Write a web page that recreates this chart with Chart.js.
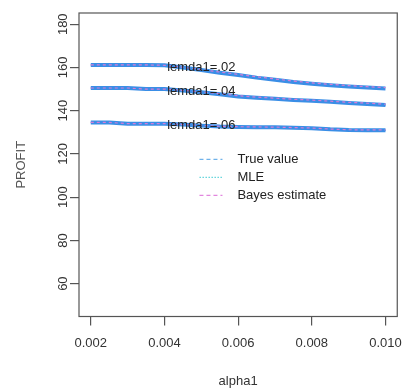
<!DOCTYPE html>
<html>
<head>
<meta charset="utf-8">
<script src="https://cdn.jsdelivr.net/npm/chart.js@4"></script>
<style>
  body { margin: 0; background: #fff; }
  #wrap { width: 412px; height: 389px; }
</style>
</head>
<body>
<div id="wrap"><canvas id="chart" width="412" height="389"></canvas></div>
<script>
// alpha1 values (x)
const alpha1 = [0.002, 0.0025, 0.003, 0.0035, 0.004, 0.0045, 0.005, 0.0055, 0.006,
                0.0065, 0.007, 0.0075, 0.008, 0.0085, 0.009, 0.0095, 0.010];

// PROFIT, lemda1 = .02
const true02  = [161.2, 161.2, 161.2, 161.2, 161.0, 160.0, 158.8, 157.6, 156.5, 155.3, 154.3, 153.3, 152.5, 151.8, 151.2, 150.7, 150.3];
const mle02   = [161.2, 161.2, 161.2, 161.2, 161.0, 160.0, 158.8, 157.6, 156.5, 155.3, 154.3, 153.3, 152.5, 151.8, 151.2, 150.7, 150.3];
const bayes02 = [161.2, 161.2, 161.2, 161.2, 161.0, 160.1, 159.0, 157.9, 156.8, 155.7, 154.7, 153.7, 152.9, 152.2, 151.6, 151.1, 150.7];
// lemda1 = .04
const true04  = [150.5, 150.5, 150.5, 150.0, 150.0, 149.3, 148.5, 147.6, 146.6, 146.0, 145.5, 145.0, 144.6, 144.1, 143.6, 143.1, 142.6];
const mle04   = [150.5, 150.5, 150.5, 150.0, 150.0, 149.3, 148.5, 147.6, 146.6, 146.0, 145.5, 145.0, 144.6, 144.1, 143.6, 143.1, 142.6];
const bayes04 = [150.5, 150.5, 150.5, 150.0, 150.0, 149.4, 148.7, 147.9, 146.9, 146.3, 145.8, 145.3, 144.9, 144.4, 143.9, 143.5, 143.0];
// lemda1 = .06
const true06  = [134.6, 134.6, 134.0, 134.0, 134.0, 133.6, 133.1, 132.7, 132.5, 132.4, 132.3, 132.1, 131.9, 131.4, 131.1, 131.0, 131.0];
const mle06   = [134.6, 134.6, 134.0, 134.0, 134.0, 133.6, 133.1, 132.7, 132.5, 132.4, 132.3, 132.1, 131.9, 131.4, 131.1, 131.0, 131.0];
const bayes06 = [134.6, 134.6, 134.0, 134.0, 134.0, 133.6, 133.2, 132.8, 132.6, 132.5, 132.4, 132.2, 132.0, 131.5, 131.2, 131.1, 131.1];

const xTicks = [0.002, 0.004, 0.006, 0.008, 0.010];
const xTickLabels = ['0.002', '0.004', '0.006', '0.008', '0.010'];
const yTicks = [60, 80, 100, 120, 140, 160, 180];

const seriesNames = ['True value', 'MLE', 'Bayes estimate'];
const curveLabels = ['lemda1=.02', 'lemda1=.04', 'lemda1=.06'];
const curveLabelX = [0.005, 0.005, 0.005];
const curveLabelY = [160, 149, 133];

const FONT = 'Liberation Sans, Arial, sans-serif';

// line styles for the three estimators
const styles = [
  { color: '#3a8ee6', width: 4, dash: [] },            // True value
  { color: '#2a66b8', width: 1.5, dash: [1.5, 2] },    // MLE
  { color: '#d77bd6', width: 1.2, dash: [3, 3] }       // Bayes
];
const legendStyles = [
  { color: '#6fb2ea', dash: [4, 3] },
  { color: '#66d6dc', dash: [1.5, 1.5] },
  { color: '#e286de', dash: [4, 3] }
];

const groups = [[true02, mle02, bayes02], [true04, mle04, bayes04], [true06, mle06, bayes06]];
const datasets = [];
groups.forEach((g, gi) => {
  // bayes drawn first (under), then true, then MLE on top
  [2, 0, 1].forEach(si => {
    datasets.push({
      label: seriesNames[si] + ' ' + curveLabels[gi],
      data: alpha1.map((x, i) => ({ x: x, y: g[si][i] })),
      borderColor: styles[si].color,
      borderWidth: styles[si].width,
      borderDash: styles[si].dash,
      pointRadius: 0,
      fill: false,
      tension: 0
    });
  });
});

// box, rotated y labels, curve labels and legend
const extras = {
  id: 'extras',
  afterDraw(chart) {
    const { ctx, chartArea: a, scales: { x, y } } = chart;
    ctx.save();
    ctx.strokeStyle = '#555';
    ctx.lineWidth = 1.2;
    ctx.setLineDash([]);
    ctx.strokeRect(a.left, a.top, a.right - a.left, a.bottom - a.top);

    // y tick labels (rotated like R)
    ctx.fillStyle = '#333';
    ctx.font = '13px ' + FONT;
    ctx.textAlign = 'center';
    ctx.textBaseline = 'middle';
    yTicks.forEach(v => {
      ctx.save();
      ctx.translate(a.left - 16, y.getPixelForValue(v));
      ctx.rotate(-Math.PI / 2);
      ctx.fillText(String(v), 0, 0);
      ctx.restore();
    });

    // curve labels
    ctx.fillStyle = '#222';
    curveLabels.forEach((t, i) => {
      ctx.fillText(t, x.getPixelForValue(curveLabelX[i]), y.getPixelForValue(curveLabelY[i]));
    });

    // legend
    const lx = x.getPixelForValue(0.00495);
    let ly = y.getPixelForValue(117.5);
    ctx.textAlign = 'left';
    seriesNames.forEach((n, i) => {
      ctx.strokeStyle = legendStyles[i].color;
      ctx.lineWidth = 1.3;
      ctx.setLineDash(legendStyles[i].dash);
      ctx.beginPath();
      ctx.moveTo(lx, ly);
      ctx.lineTo(lx + 23, ly);
      ctx.stroke();
      ctx.fillStyle = '#222';
      ctx.fillText(n, lx + 38, ly);
      ly += 18;
    });
    ctx.restore();
  }
};

new Chart(document.getElementById('chart'), {
  type: 'line',
  data: { datasets },
  options: {
    responsive: false,
    animation: false,
    layout: { padding: { top: 13, right: 7, left: 0, bottom: 0 } },
    plugins: { legend: { display: false }, tooltip: { enabled: false } },
    scales: {
      x: {
        type: 'linear',
        min: 0.00168,
        max: 0.01032,
        afterBuildTicks: s => { s.ticks = xTicks.map(v => ({ value: v })); },
        afterFit: s => { s.height = 72.5; },
        ticks: {
          callback: (v, i) => xTickLabels[i],
          color: '#333',
          font: { family: FONT, size: 13 },
          padding: 10,
          maxRotation: 0
        },
        grid: { drawOnChartArea: false, drawTicks: true, tickLength: 9, color: '#555', lineWidth: 1.2 },
        border: { display: false },
        title: { display: true, text: 'alpha1', color: '#333', font: { family: FONT, size: 13 }, padding: { top: 0, bottom: 0 } }
      },
      y: {
        type: 'linear',
        min: 44.8,
        max: 185.2,
        afterBuildTicks: s => { s.ticks = yTicks.map(v => ({ value: v })); },
        afterFit: s => { s.width = 79; },
        ticks: { display: false },
        grid: { drawOnChartArea: false, drawTicks: true, tickLength: 9, color: '#555', lineWidth: 1.2 },
        border: { display: false },
        title: { display: true, text: 'PROFIT', color: '#555', font: { family: FONT, size: 13 }, padding: { top: 14, bottom: 0 } }
      }
    }
  },
  plugins: [extras]
});
</script>
</body>
</html>
